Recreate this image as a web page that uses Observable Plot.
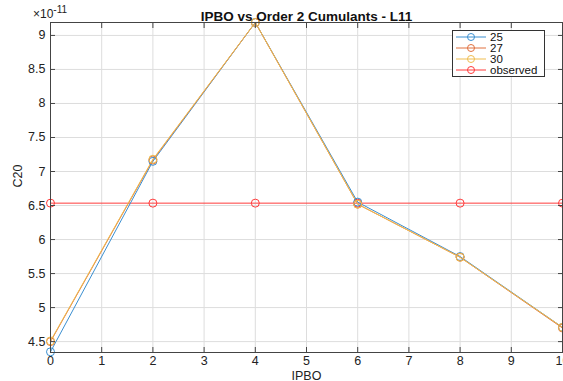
<!DOCTYPE html>
<html><head><meta charset="utf-8">
<script src="https://cdn.jsdelivr.net/npm/d3@7"></script>
<script src="https://cdn.jsdelivr.net/npm/@observablehq/plot@0.6"></script>
<style>
body{margin:0;background:#fff;font-family:"Liberation Sans",Arial,sans-serif;}
#wrap{position:relative;width:563px;height:381px;overflow:hidden;}
#legend{position:absolute;left:452px;top:30px;width:93px;height:47px;border:1px solid #333;background:#fff;font-size:11.5px;color:#111;box-sizing:border-box;padding-top:1px;}
#legend .row{display:flex;align-items:center;height:10.8px;}
#legend svg{margin-left:2px;margin-right:3px;}
</style></head>
<body><div id="wrap"><div id="legend"></div></div>
<script>
const ipbo = [0, 2, 4, 6, 8, 10];
const seriesNames = ["25", "27", "30", "observed"];
const s25 = [4.35, 7.15, 9.19, 6.55, 5.75, 4.71];
const s27 = [4.50, 7.17, 9.19, 6.52, 5.74, 4.70];
const s30 = [4.51, 7.18, 9.19, 6.52, 5.74, 4.71];
const observed = [6.535, 6.535, 6.535, 6.535, 6.535, 6.535];
const colors = ["#3b8fd0", "#e0703f", "#efbd4f", "#ff3b3b"];
const xTicks = [0,1,2,3,4,5,6,7,8,9,10];
const yTicks = [4.5,5,5.5,6,6.5,7,7.5,8,8.5,9];

const allSeries = [s25, s27, s30, observed];
const data = [];
allSeries.forEach((s, i) => s.forEach((v, j) => data.push({series: seriesNames[i], x: ipbo[j], y: v})));
const order = [3, 0, 1, 2];
const ordered = order.flatMap(i => data.filter(d => d.series === seriesNames[i]));

const axisColor = "#444";
const plot = Plot.plot({
  width: 563, height: 381,
  marginLeft: 50, marginRight: 1, marginTop: 22, marginBottom: 29,
  style: {fontFamily: "Liberation Sans, Arial, sans-serif", fontSize: "12px", color: "#222", background: "transparent", overflow: "visible"},
  x: {domain: [0, 10], ticks: xTicks, label: null},
  y: {domain: [4.34, 9.19], ticks: yTicks, label: null},
  color: {domain: seriesNames, range: colors},
  marks: [
    Plot.gridX(xTicks, {stroke: "#ddd", strokeOpacity: 1}),
    Plot.gridY(yTicks, {stroke: "#ddd", strokeOpacity: 1}),
    Plot.line(ordered, {x: "x", y: "y", z: "series", stroke: "series", strokeWidth: 1}),
    Plot.dot(ordered, {x: "x", y: "y", stroke: "series", r: 4, strokeWidth: 1, fill: "none"}),
    Plot.frame({stroke: axisColor, strokeWidth: 1}),
    Plot.axisX(xTicks, {anchor: "bottom", tickSize: -5, tickPadding: 9, stroke: axisColor, fill: "#222", fontSize: 12.5, label: null}),
    Plot.axisX(xTicks, {anchor: "top", tickSize: -5, tickFormat: () => "", stroke: axisColor, label: null}),
    Plot.axisY(yTicks, {anchor: "left", tickSize: -5, tickPadding: 10, stroke: axisColor, fill: "#222", fontSize: 12.5, label: null, tickFormat: d => String(d)}),
    Plot.axisY(yTicks, {anchor: "right", tickSize: -5, tickFormat: () => "", stroke: axisColor, label: null}),
    Plot.text(["IPBO vs Order 2 Cumulants - L11"], {frameAnchor: "top", dy: -11, fontWeight: "bold", fontSize: 13.5, fill: "#111"}),
    Plot.text(["IPBO"], {frameAnchor: "bottom", dy: 27, fontSize: 12.5, fill: "#222"}),
    Plot.text(["C20"], {frameAnchor: "left", dx: -33, rotate: -90, fontSize: 12.5, fill: "#222"})
  ]
});
const wrap = document.getElementById("wrap");
wrap.insertBefore(plot, wrap.firstChild);

// exponent label
const svg = d3.select(plot);
const exp = svg.append("text").attr("x", 50).attr("y", 18).attr("font-size", 12).attr("fill", "#222");
exp.append("tspan").text("\u00d710");
exp.append("tspan").attr("dy", -5).attr("font-size", 10).text("-11");

// legend
const leg = d3.select("#legend");
seriesNames.forEach((n, i) => {
  const row = leg.append("div").attr("class", "row");
  const s = row.append("svg").attr("width", 32).attr("height", 10);
  s.append("line").attr("x1", 1).attr("x2", 31).attr("y1", 5).attr("y2", 5).attr("stroke", colors[i]);
  s.append("circle").attr("cx", 16).attr("cy", 5).attr("r", 3.5).attr("fill", "none").attr("stroke", colors[i]);
  row.append("span").text(n);
});
</script>
</body></html>
